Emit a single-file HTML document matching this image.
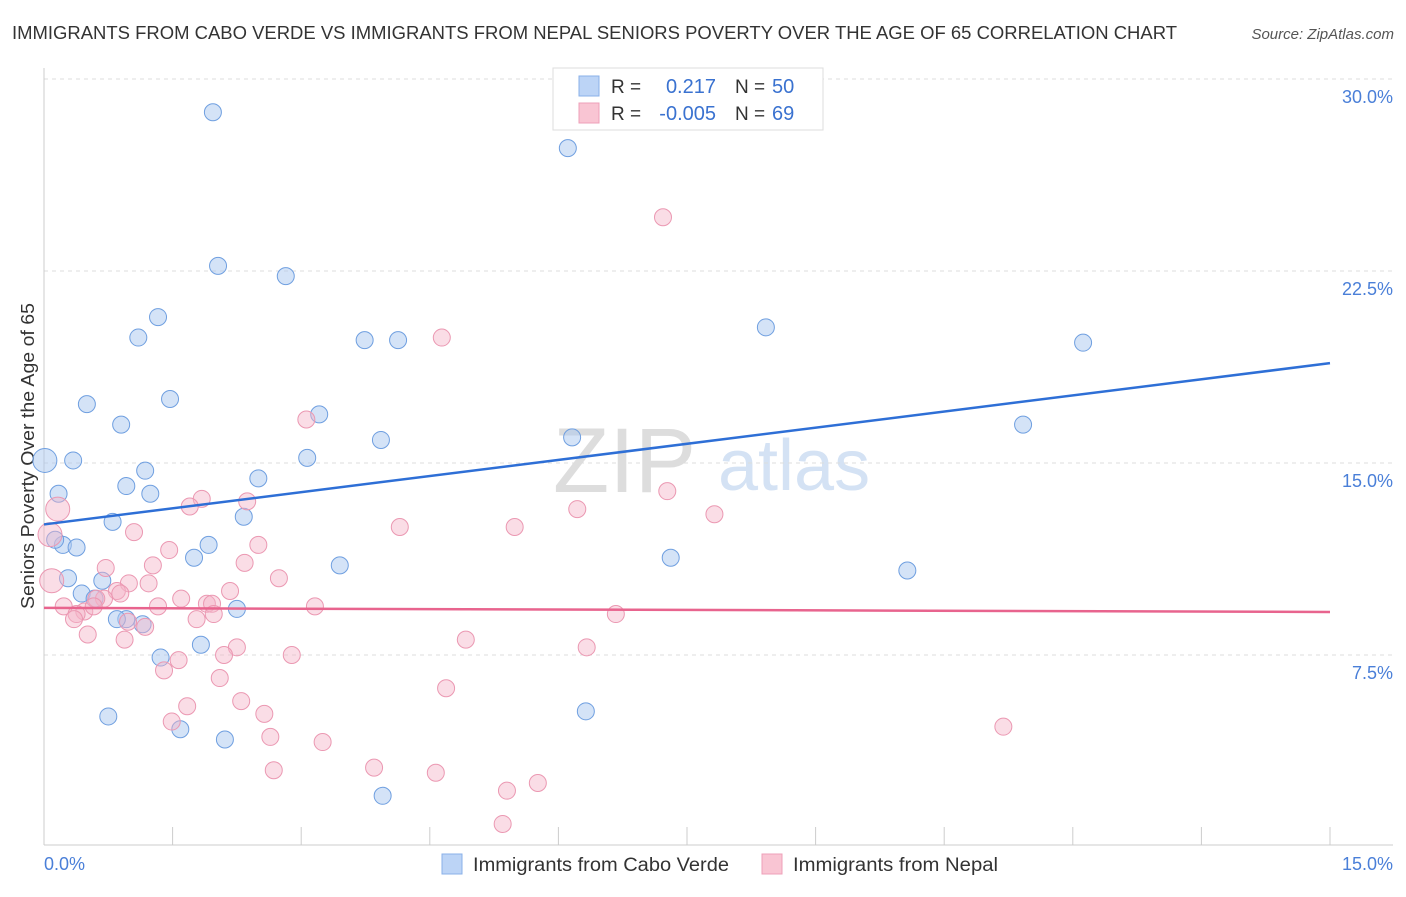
<!DOCTYPE html>
<html><head><meta charset="utf-8"><style>
body{margin:0;background:#fff;font-family:"Liberation Sans",sans-serif;}
svg text{font-family:"Liberation Sans",sans-serif;}
</style></head><body>
<svg id="chart" width="1406" height="892" xmlns="http://www.w3.org/2000/svg">
<text x="12" y="39" font-size="18" fill="#333" textLength="1165" lengthAdjust="spacingAndGlyphs">IMMIGRANTS FROM CABO VERDE VS IMMIGRANTS FROM NEPAL SENIORS POVERTY OVER THE AGE OF 65 CORRELATION CHART</text>
<text x="1394" y="39" font-size="15" fill="#555" font-style="italic" text-anchor="end">Source: ZipAtlas.com</text>
<text x="34" y="456" font-size="18.5" fill="#333" text-anchor="middle" transform="rotate(-90 34 456)" textLength="306" lengthAdjust="spacingAndGlyphs">Seniors Poverty Over the Age of 65</text>
<text x="553" y="492" font-size="92" fill="#ddd" font-family="Liberation Serif">ZIP</text>
<text x="718" y="490" font-size="72" fill="#d4e2f4">atlas</text>
<g id="grid"></g><g id="marks"></g>
<g>
<rect x="553" y="68" width="270" height="62" fill="#fff" stroke="#ddd"/>
<rect x="579" y="76" width="20" height="20" fill="#bcd4f6" stroke="#8ab0e8"/>
<rect x="579" y="103" width="20" height="20" fill="#f9c5d3" stroke="#eea0b8"/>
<text x="611" y="93" font-size="19" fill="#333">R =</text>
<text x="716" y="93" font-size="20" fill="#3a72d0" text-anchor="end">0.217</text>
<text x="735" y="93" font-size="19" fill="#333">N =</text>
<text x="772" y="93" font-size="20" fill="#3a72d0">50</text>
<text x="611" y="120" font-size="19" fill="#333">R =</text>
<text x="716" y="120" font-size="20" fill="#3a72d0" text-anchor="end">-0.005</text>
<text x="735" y="120" font-size="19" fill="#333">N =</text>
<text x="772" y="120" font-size="20" fill="#3a72d0">69</text>
</g>
<g>
<rect x="442" y="854" width="20" height="20" fill="#bcd4f6" stroke="#8ab0e8"/>
<text x="473" y="871" font-size="19" fill="#333" textLength="256" lengthAdjust="spacingAndGlyphs">Immigrants from Cabo Verde</text>
<rect x="762" y="854" width="20" height="20" fill="#f9c5d3" stroke="#eea0b8"/>
<text x="793" y="871" font-size="19" fill="#333" textLength="205" lengthAdjust="spacingAndGlyphs">Immigrants from Nepal</text>
</g>
</svg>
<script>
const xTicks=[0,1.5,3,4.5,6,7.5,9,10.5,12,13.5,15];
const yTicks=[7.5,15,22.5,30];
const yTickLabels=["7.5%","15.0%","22.5%","30.0%"];
const blueX=[1.97,6.11,2.03,2.82,1.33,8.42,1.10,3.74,4.13,12.12,0.50,1.47,3.21,0.90,11.42,3.93,6.16,0.01,0.34,3.07,1.18,2.50,0.96,1.24,0.17,2.33,0.80,0.22,0.38,1.92,0.13,1.75,7.31,3.45,10.07,0.28,0.68,0.44,0.59,2.25,0.96,0.85,1.15,1.83,1.36,0.75,6.32,1.59,2.11,3.95];
const blueY=[28.7,27.3,22.7,22.3,20.7,20.3,19.9,19.8,19.8,19.7,17.3,17.5,16.9,16.5,16.5,15.9,16.0,15.1,15.1,15.2,14.7,14.4,14.1,13.8,13.8,12.9,12.7,11.8,11.7,11.8,12.0,11.3,11.3,11.0,10.8,10.5,10.4,9.9,9.7,9.3,8.9,8.9,8.7,7.9,7.4,5.1,5.3,4.6,4.2,2.0];
const pinkX=[7.22,4.64,3.06,7.27,1.84,2.37,1.70,7.82,6.22,5.49,4.15,0.16,1.05,0.07,2.50,1.46,2.34,1.27,0.72,2.74,0.09,0.99,1.22,2.17,0.85,0.70,0.61,1.60,0.89,1.90,1.96,1.33,3.16,6.67,0.23,0.47,0.38,1.98,0.35,1.78,0.98,1.18,0.51,0.94,4.92,2.25,6.33,2.10,2.89,1.57,1.40,2.05,4.69,2.30,1.67,2.57,1.49,2.64,3.25,11.19,3.85,2.68,4.57,5.76,5.40,5.35,0.58];
const pinkY=[24.6,19.9,16.7,13.9,13.6,13.5,13.3,13.0,13.2,12.5,12.5,13.2,12.3,12.2,11.8,11.6,11.1,11.0,10.9,10.5,10.4,10.3,10.3,10.0,10.0,9.7,9.7,9.7,9.9,9.5,9.5,9.4,9.4,9.1,9.4,9.2,9.1,9.1,8.9,8.9,8.8,8.6,8.3,8.1,8.1,7.8,7.8,7.5,7.5,7.3,6.9,6.6,6.2,5.7,5.5,5.2,4.9,4.3,4.1,4.7,3.1,3.0,2.9,2.5,2.2,0.9,9.4];
const blueTrend=[12.6,18.9];
const pinkTrend=[9.34,9.18];
const NS="http://www.w3.org/2000/svg";
const X=v=>44+v/15*1286, Y=v=>847-v*25.6;
function mk(t,a,p){const e=document.createElementNS(NS,t);for(const k in a)e.setAttribute(k,a[k]);p.appendChild(e);return e;}
const g=document.getElementById('grid'), m=document.getElementById('marks');
yTicks.forEach((t,i)=>{
 const l=mk('line',{x1:44,x2:1393,y1:Y(t),y2:Y(t),stroke:'#ddd','stroke-dasharray':'4,4'},g);
 
 
 const tx=mk('text',{x:1393,y:Y(t)+24,'font-size':18,fill:'#4a7fd8','text-anchor':'end'},g);tx.textContent=yTickLabels[i];
 
 
});
mk('line',{x1:44,x2:44,y1:68,y2:845,stroke:'#ccc'},g);
mk('line',{x1:44,x2:1393,y1:845,y2:845,stroke:'#ccc'},g);
xTicks.forEach(t=>{const l=mk('line',{x1:X(t),x2:X(t),y1:827,y2:845,stroke:'#ccc'},g);
 
 });
const x0=mk('text',{x:44,y:870,'font-size':18,fill:'#4a7fd8'},g);x0.textContent='0.0%';


const x1=mk('text',{x:1393,y:870,'font-size':18,fill:'#4a7fd8','text-anchor':'end'},g);x1.textContent='15.0%';


blueX.forEach((v,i)=>{const c=mk('circle',{cx:X(v),cy:Y(blueY[i]),r:(i==17?12:8.5),fill:'rgba(170,200,240,0.5)',stroke:'#6f9fe0','stroke-width':1},m);
 
 });
pinkX.forEach((v,i)=>{const c=mk('circle',{cx:X(v),cy:Y(pinkY[i]),r:((i==11||i==20||i==13)?12:8.5),fill:'rgba(245,180,200,0.45)',stroke:'#eb98b2','stroke-width':1},m);
 
 });
const bl=mk('line',{x1:X(0),x2:X(15),y1:Y(blueTrend[0]),y2:Y(blueTrend[1]),stroke:'#2e6fd6','stroke-width':2.5},m);


const pl=mk('line',{x1:X(0),x2:X(15),y1:Y(pinkTrend[0]),y2:Y(pinkTrend[1]),stroke:'#e8648e','stroke-width':2.5},m);


</script>
</body></html>
